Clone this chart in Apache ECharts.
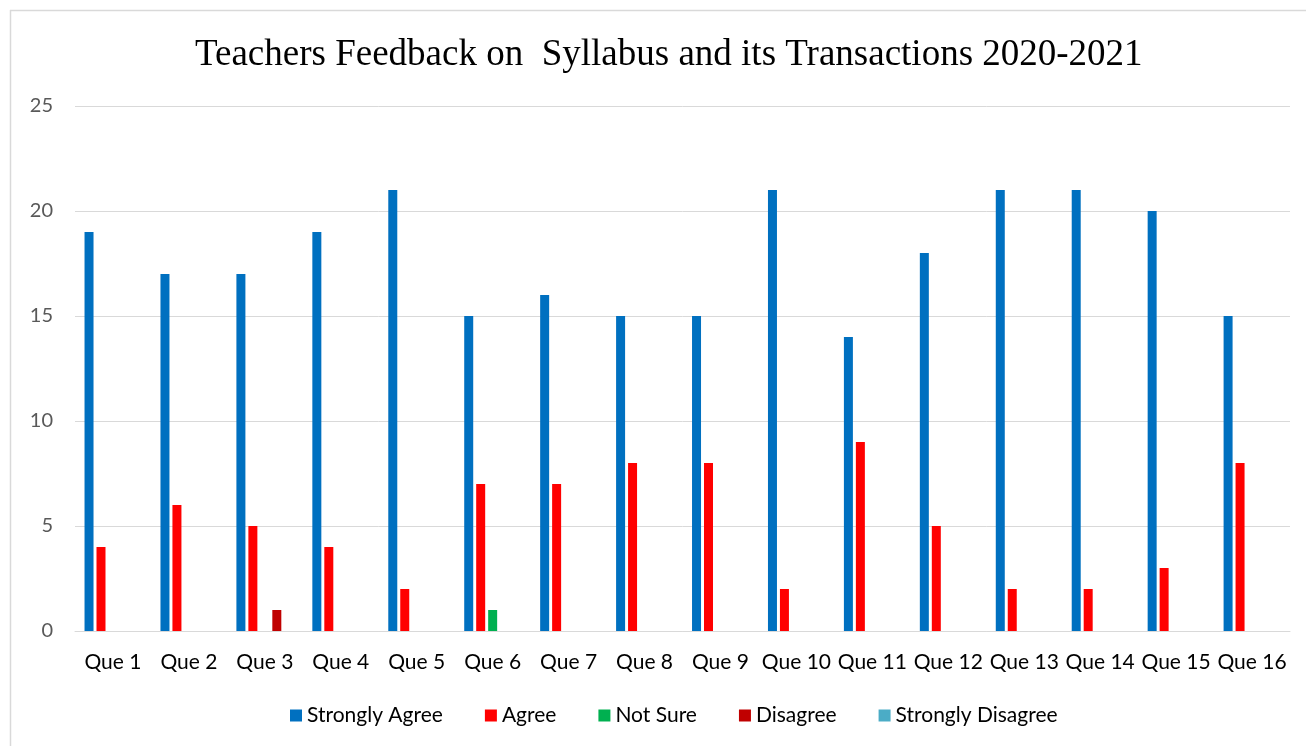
<!DOCTYPE html>
<html>
<head>
<meta charset="utf-8">
<script src="https://cdn.jsdelivr.net/npm/echarts@6/dist/echarts.min.js"></script>
<style>
  html, body { margin: 0; padding: 0; background: #fff; }
  #chart { width: 1306px; height: 746px; }
</style>
</head>
<body>
<div id="chart"></div>
<script>
var questions = ['Que 1', 'Que 2', 'Que 3', 'Que 4', 'Que 5', 'Que 6', 'Que 7', 'Que 8',
                 'Que 9', 'Que 10', 'Que 11', 'Que 12', 'Que 13', 'Que 14', 'Que 15', 'Que 16'];
var stronglyAgree    = [19, 17, 17, 19, 21, 15, 16, 15, 15, 21, 14, 18, 21, 21, 20, 15];
var agree            = [4, 6, 5, 4, 2, 7, 7, 8, 8, 2, 9, 5, 2, 2, 3, 8];
var notSure          = [0, 0, 0, 0, 0, 1, 0, 0, 0, 0, 0, 0, 0, 0, 0, 0];
var disagree         = [0, 0, 1, 0, 0, 0, 0, 0, 0, 0, 0, 0, 0, 0, 0, 0];
var stronglyDisagree = [0, 0, 0, 0, 0, 0, 0, 0, 0, 0, 0, 0, 0, 0, 0, 0];

var labelFont = 'Lato, "Open Sans", sans-serif';

function bar(name, data, color) {
  return {
    name: name,
    type: 'bar',
    data: data,
    barWidth: 9,
    barGap: '33%',
    itemStyle: { color: color },
    emphasis: { disabled: true }
  };
}

var chart = echarts.init(document.getElementById('chart'));
chart.setOption({
  animation: false,
  backgroundColor: '#fff',
  title: {
    text: 'Teachers Feedback on  Syllabus and its Transactions 2020-2021',
    left: 190,
    top: 32,
    textStyle: {
      fontFamily: '"Liberation Serif", "Times New Roman", serif',
      fontWeight: 'normal',
      fontSize: 37,
      color: '#000'
    }
  },
  legend: {
    bottom: 15,
    left: 285,
    itemWidth: 12,
    itemHeight: 12,
    itemGap: 42,
    icon: 'rect',
    textStyle: { fontFamily: labelFont, fontSize: 21, color: '#000' }
  },
  grid: { left: 75, right: 16, top: 106, bottom: 115, containLabel: false },
  xAxis: {
    type: 'category',
    data: questions,
    axisLine: { lineStyle: { color: '#d9d9d9', width: 1 } },
    axisTick: { show: false },
    axisLabel: { interval: 0, fontFamily: labelFont, fontSize: 21, color: '#000', margin: 21 }
  },
  yAxis: {
    type: 'value',
    min: 0,
    max: 25,
    interval: 5,
    axisLine: { show: false },
    axisTick: { show: false },
    splitLine: { lineStyle: { color: '#d9d9d9', width: 1 } },
    axisLabel: { fontFamily: labelFont, fontSize: 20, color: '#595959', margin: 22 }
  },
  graphic: [
    { type: 'line', shape: { x1: 10, y1: 10.5, x2: 1306, y2: 10.5 }, style: { stroke: '#d9d9d9', lineWidth: 1.5 } },
    { type: 'line', shape: { x1: 10.5, y1: 10, x2: 10.5, y2: 746 }, style: { stroke: '#d9d9d9', lineWidth: 1.5 } }
  ],
  series: [
    bar('Strongly Agree', stronglyAgree, '#0070C0'),
    bar('Agree', agree, '#FF0000'),
    bar('Not Sure', notSure, '#00B050'),
    bar('Disagree', disagree, '#C00000'),
    bar('Strongly Disagree', stronglyDisagree, '#4BACC6')
  ]
});
</script>
</body>
</html>
